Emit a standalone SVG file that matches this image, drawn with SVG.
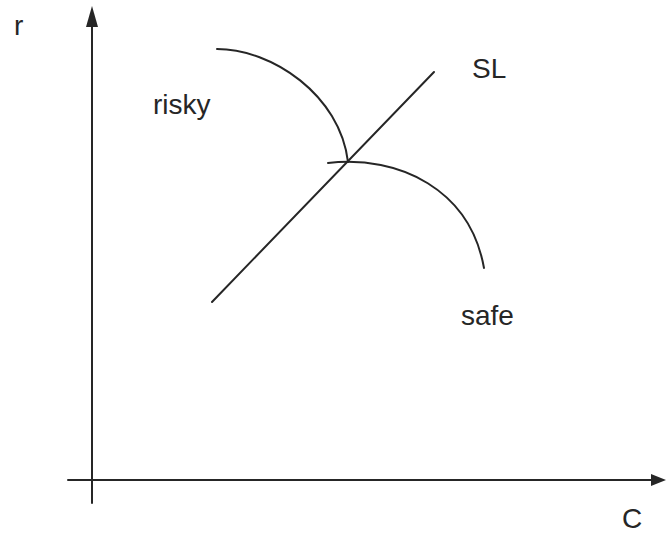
<svg xmlns="http://www.w3.org/2000/svg" width="666" height="537" viewBox="0 0 666 537">
<style>
.ln{fill:none;stroke:#262626;stroke-width:2;stroke-linecap:round}
.ah{fill:#262626}
.t{font-family:"Liberation Sans",Arial,sans-serif;font-size:28px;fill:#262626}
</style>
<rect width="666" height="537" fill="#fff"/>
<g id="axes">
<line class="ln" x1="92" y1="24" x2="92" y2="503"/>
<polygon class="ah" points="92,6 86,27 98,27"/>
<line class="ln" x1="68" y1="480" x2="654" y2="480"/>
<polygon class="ah" points="666,480 651,474 651,486"/>
</g>
<g id="connectors">
<path id="risky-curve" class="ln" d="M217,49 C272,49 340,95 348,162"/>
<path id="safe-curve" class="ln" d="M328,163 C400,155 470,190 484,268"/>
<line id="sl-line" class="ln" x1="212" y1="302" x2="434" y2="72"/>
</g>
<g id="labels">
<text class="t" x="14" y="35">r</text>
<text class="t" x="153" y="114">risky</text>
<text class="t" x="472" y="78">SL</text>
<text class="t" x="461" y="325">safe</text>
<text class="t" x="622" y="528">C</text>
</g>
</svg>
